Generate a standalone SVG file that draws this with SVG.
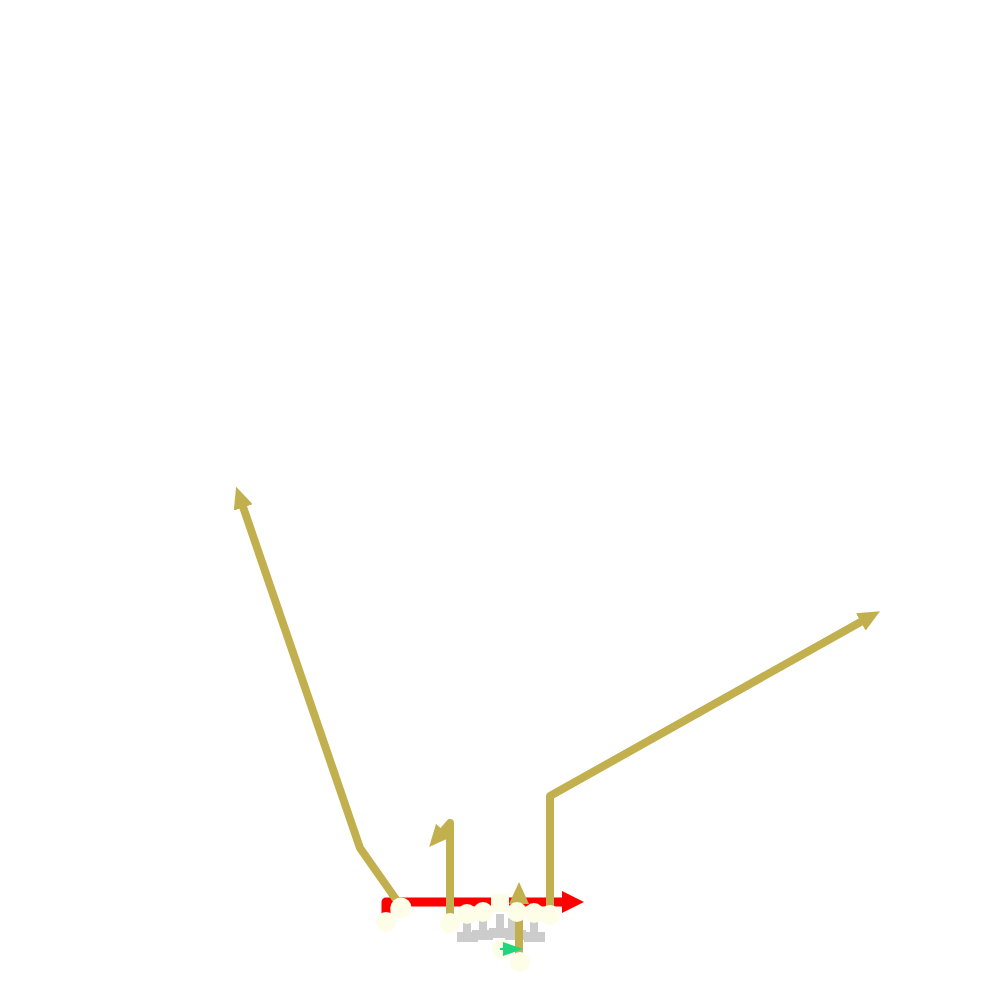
<svg xmlns="http://www.w3.org/2000/svg" width="1000" height="1000" viewBox="0 0 1000 1000">
<style>
.route{fill:none;stroke:#c2b04f;stroke-width:8;stroke-linejoin:round;marker-end:url(#goldArrow)}
.player{fill:#fdfde8;stroke:none}
.block{fill:#cccccc}
</style>
<defs>
<marker id="goldArrow" markerUnits="userSpaceOnUse" markerWidth="22" markerHeight="20" viewBox="0 0 22 20" refX="10" refY="10" orient="auto"><path d="M0,0 L22,10 L0,20 z" fill="#c2b04f"/></marker>
<marker id="redArrow" markerUnits="userSpaceOnUse" markerWidth="22" markerHeight="22" viewBox="0 0 22 22" refX="2" refY="11" orient="auto"><path d="M0,0 L22,11 L0,22 z" fill="#ff0000"/></marker>
<marker id="greenArrow" markerUnits="userSpaceOnUse" markerWidth="20" markerHeight="14" viewBox="0 0 20 14" refX="0" refY="7" orient="auto"><path d="M0,0 L20,7 L0,14 z" fill="#1fd67a"/></marker>
</defs>
<rect width="1000" height="1000" fill="#ffffff"/>
<g id="blocks">
<rect class="block" x="463" y="918" width="8" height="17"/><rect class="block" x="457" y="932" width="21" height="10"/>
<rect class="block" x="479" y="918" width="8" height="17"/><rect class="block" x="472" y="930" width="21" height="10"/>
<rect class="block" x="496" y="914" width="8" height="19"/><rect class="block" x="489" y="928" width="22" height="10"/>
<rect class="block" x="508" y="918" width="8" height="17"/><rect class="block" x="505" y="930" width="21" height="10"/>
<rect class="block" x="530" y="918" width="8" height="17"/><rect class="block" x="524" y="932" width="21" height="10"/>
</g>
<g id="connectors">
<path id="motion" d="M386,915 L386,902 L564,902" fill="none" stroke="#ff0000" stroke-width="9" stroke-linejoin="round" marker-end="url(#redArrow)"/>
<path id="route1" class="route" d="M400,905 L360,848 L240,498"/>
<path id="route2" class="route" d="M450,918 L450,823 L437,838"/>
<path id="route3" class="route" d="M519,955 L519,894"/>
<path id="route4" class="route" d="M550,915 L550,796 L869.5,617"/>
</g>
<g id="players">
<circle id="p1" class="player" cx="386" cy="922" r="10"/>
<circle id="p2" class="player" cx="401" cy="908" r="10.5"/>
<circle id="p3" class="player" cx="450" cy="923" r="10"/>
<circle id="p4" class="player" cx="467" cy="914" r="10"/>
<circle id="p5" class="player" cx="483" cy="912" r="10"/>
<rect id="center" class="player" x="491" y="894" width="18" height="18"/>
<circle id="p6" class="player" cx="517" cy="912" r="10"/>
<circle id="p7" class="player" cx="534" cy="913" r="10"/>
<circle id="p8" class="player" cx="550" cy="915" r="10"/>
<circle id="qb" class="player" cx="502" cy="949" r="10"/>
<circle id="rb" class="player" cx="520" cy="962" r="10"/>
</g>
<g id="handoff">
<path d="M500,949 L503,949" fill="none" stroke="#1fd67a" stroke-width="2" marker-end="url(#greenArrow)"/>
</g>
</svg>
